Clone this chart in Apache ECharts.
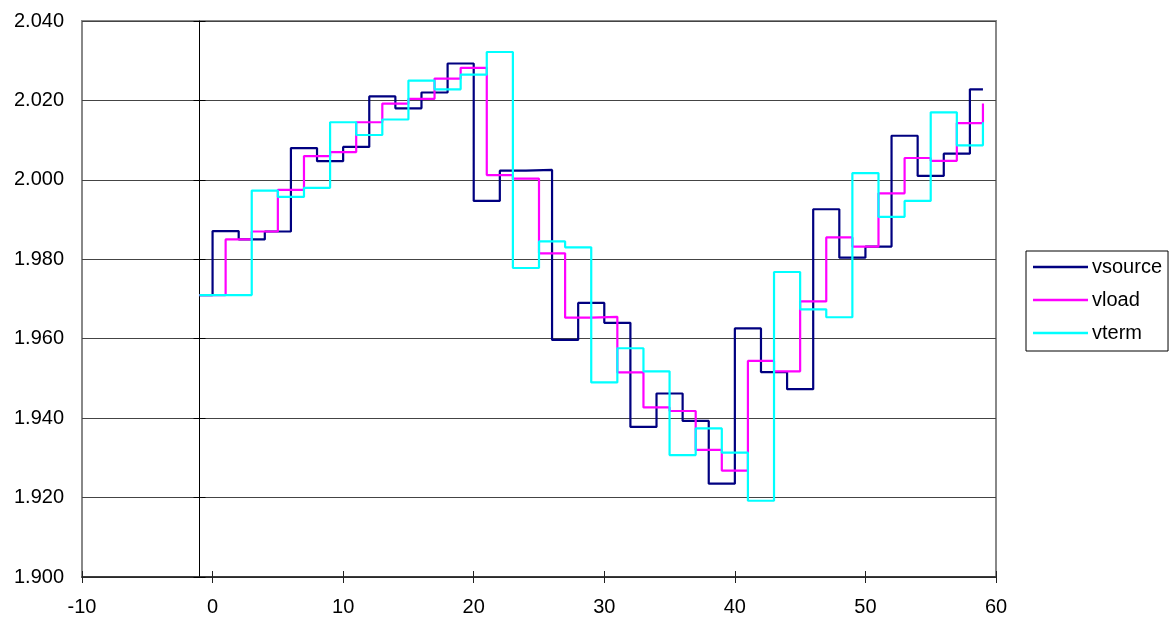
<!DOCTYPE html>
<html>
<head>
<meta charset="utf-8">
<script src="https://cdn.jsdelivr.net/npm/echarts@6/dist/echarts.min.js"></script>
<style>
html,body{margin:0;padding:0;background:#fff;}
#chart{width:1171px;height:619px;}
</style>
</head>
<body>
<div id="chart"></div>
<script>
// ---- data ----
const seriesNames = ['vsource', 'vload', 'vterm'];

const vsourceX = [-1, 0, 2, 4, 6, 8, 10, 12, 14, 16, 18, 20, 22, 24, 26, 28, 30, 32, 34, 36, 38, 40, 42, 44, 46, 48, 50, 52, 54, 56, 58, 59];
const vsourceY = [1.971, 1.9871, 1.985, 1.987, 2.008, 2.0047, 2.0083, 2.021, 2.018, 2.022, 2.0293, 1.9947, 2.0023, 2.0025, 1.9597, 1.969, 1.964, 1.9378, 1.9462, 1.9393, 1.9235, 1.9626, 1.9516, 1.9473, 1.9926, 1.9804, 1.9832, 2.0111, 2.001, 2.0066, 2.0228, 2.0228];

const vloadX = [-1, 1, 3, 5, 7, 9, 11, 13, 15, 17, 19, 21, 23, 25, 27, 29, 31, 33, 35, 37, 39, 41, 43, 45, 47, 49, 51, 53, 55, 57, 59];
const vloadY = [1.971, 1.985, 1.987, 1.9975, 2.006, 2.007, 2.0145, 2.0192, 2.0204, 2.0255, 2.0282, 2.0012, 2.0003, 1.9815, 1.9653, 1.9655, 1.9515, 1.9427, 1.9418, 1.932, 1.9268, 1.9544, 1.9518, 1.9694, 1.9855, 1.9832, 1.9966, 2.0055, 2.0048, 2.0143, 2.0192];

const vtermX = [-1, 3, 5, 7, 9, 11, 13, 15, 17, 19, 21, 23, 25, 27, 29, 31, 33, 35, 37, 39, 41, 43, 45, 47, 49, 51, 53, 55, 57, 59];
const vtermY = [1.971, 1.9973, 1.9957, 1.998, 2.0145, 2.0113, 2.0152, 2.025, 2.0228, 2.0265, 2.0322, 1.9778, 1.9845, 1.983, 1.949, 1.9576, 1.9518, 1.9307, 1.9374, 1.9313, 1.9192, 1.9768, 1.9674, 1.9654, 2.0017, 1.9907, 1.9947, 2.017, 2.0087, 2.0145];

const xMin = -10, xMax = 60, xStep = 10;
const yMin = 1.900, yMax = 2.040, yStep = 0.020;
const yCrossX = -1;  // the vertical axis line crosses here

// ---- layout ----
const G = {left: 82, right: 175, top: 21, bottom: 42};
const W = 1171, H = 619;
const plotW = W - G.left - G.right;
const crossOffset = -((yCrossX - xMin) / (xMax - xMin)) * plotW;

const FONT = "'Liberation Sans', Arial, sans-serif";
const FS = 20;
const colors = ['#000080', '#FF00FF', '#00FFFF'];

function pairs(xs, ys) { return xs.map((x, i) => [x, ys[i]]); }
const seriesData = [pairs(vsourceX, vsourceY), pairs(vloadX, vloadY), pairs(vtermX, vtermY)];

const chart = echarts.init(document.getElementById('chart'), null, {renderer: 'canvas'});

const yBase = {type: 'value', min: yMin, max: yMax, interval: yStep};
const xBase = {type: 'value', min: xMin, max: xMax, interval: xStep};

chart.setOption({
  animation: false,
  backgroundColor: '#fff',
  textStyle: {fontFamily: FONT},
  grid: {left: G.left, right: G.right, top: G.top, bottom: G.bottom, show: true,
         borderColor: '#888', borderWidth: 2, backgroundColor: 'transparent'},
  legend: {
    orient: 'vertical', left: 1026, top: 251,
    data: seriesNames.map((n, i) => ({name: n, icon: 'rect', itemStyle: {color: colors[i]}})),
    itemWidth: 55, itemHeight: 2.5, itemGap: 13,
    padding: [6, 6, 8, 7],
    borderColor: '#000', borderWidth: 1,
    textStyle: {fontSize: FS, color: '#000', fontFamily: FONT, padding: [0, 0, 0, -1]}
  },
  xAxis: [
    Object.assign({}, xBase, {
      position: 'bottom',
      axisLine: {show: true, onZero: false, lineStyle: {color: '#222', width: 1.5}},
      axisTick: {show: true, inside: false, length: 6, lineStyle: {color: '#222', width: 1}},
      axisLabel: {fontSize: FS, color: '#000', margin: 20, fontFamily: FONT},
      splitLine: {show: false}
    }),
    Object.assign({}, xBase, {
      position: 'bottom', offset: 0,
      axisLine: {show: false, onZero: false},
      axisTick: {show: true, inside: true, length: 6, lineStyle: {color: '#222', width: 1}},
      axisLabel: {show: false},
      splitLine: {show: false}
    })
  ],
  yAxis: [
    Object.assign({}, yBase, {
      position: 'left',
      axisLine: {show: false},
      axisTick: {show: false},
      axisLabel: {fontSize: FS, color: '#000', margin: 18, fontFamily: FONT,
                  formatter: v => v.toFixed(3)},
      splitLine: {show: true, lineStyle: {color: '#444', width: 1}}
    }),
    Object.assign({}, yBase, {
      position: 'left', offset: crossOffset,
      axisLine: {show: true, onZero: false, lineStyle: {color: '#000', width: 1}},
      axisTick: {show: true, inside: false, length: 6, lineStyle: {color: '#000', width: 1}},
      axisLabel: {show: false},
      splitLine: {show: false}
    }),
    Object.assign({}, yBase, {
      position: 'left', offset: crossOffset,
      axisLine: {show: false, onZero: false},
      axisTick: {show: true, inside: true, length: 6, lineStyle: {color: '#000', width: 1}},
      axisLabel: {show: false},
      splitLine: {show: false}
    })
  ],
  series: seriesNames.map((name, i) => ({
    name: name,
    type: 'line',
    step: 'end',
    xAxisIndex: 0, yAxisIndex: 0,
    data: seriesData[i],
    symbol: 'none',
    color: colors[i],
    lineStyle: {color: colors[i], width: 2.2},
    emphasis: {disabled: true},
    z: 3 + i
  }))
});
</script>
</body>
</html>
